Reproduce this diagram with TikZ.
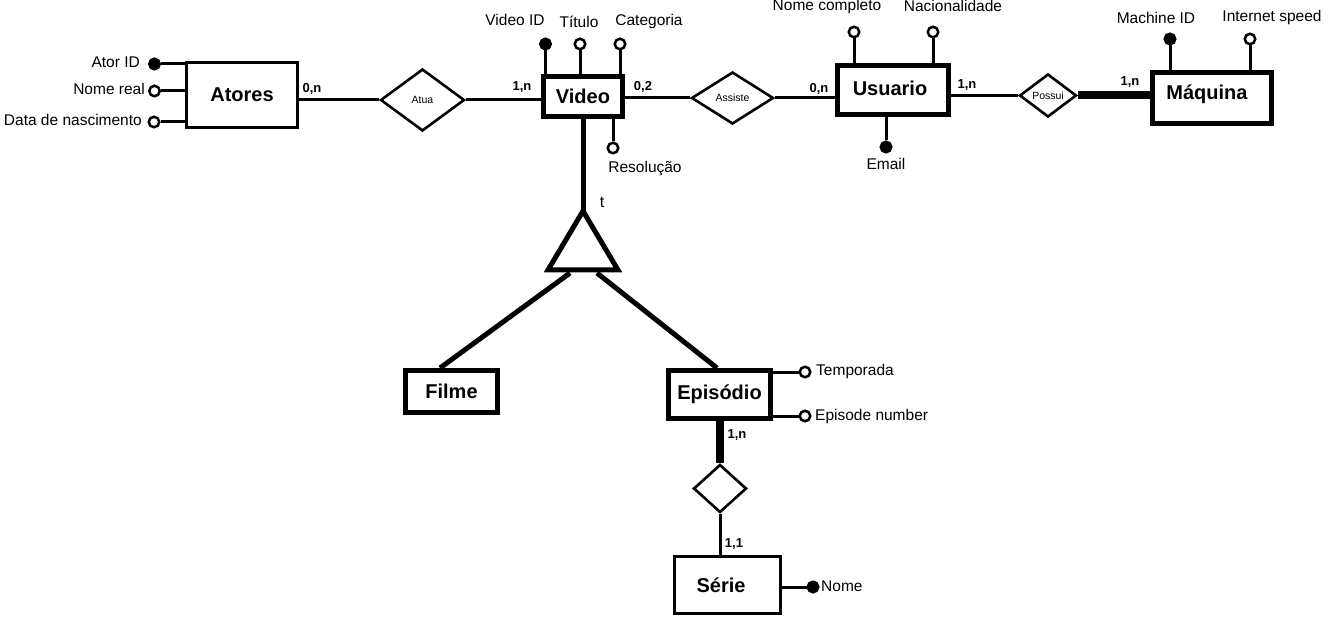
\documentclass[tikz,border=0pt]{standalone}
\usepackage{fontspec}
\setmainfont{Liberation Sans}
\usetikzlibrary{shapes.geometric}
\begin{document}
\begin{tikzpicture}[x=1pt,y=-1pt,
  thinent/.style={draw, line width=3pt, rectangle, inner sep=0pt, font=\bfseries\fontsize{20}{24}\selectfont},
  thickent/.style={draw, line width=5pt, rectangle, inner sep=0pt, font=\bfseries\fontsize{20}{24}\selectfont},
  etxt/.style={inner sep=0pt, font=\bfseries\fontsize{20}{24}\selectfont},
  rel/.style={draw, line width=2.6pt, diamond, inner sep=0pt, aspect=1, font=\fontsize{10.5}{12}\selectfont},
  opena/.style={draw, line width=2.5pt, circle, fill=white, inner sep=0pt, minimum size=10.5pt},
  fulla/.style={draw, line width=2.5pt, circle, fill=black, inner sep=0pt, minimum size=10.5pt},
  atxt/.style={inner sep=0pt, font=\fontsize{15.5}{18}\selectfont, text height=11pt, text depth=3pt},
  card/.style={inner sep=0pt, font=\bfseries\fontsize{13}{15}\selectfont},
  aline/.style={line width=3pt},
  fat/.style={line width=8pt},
  isa/.style={line width=5pt}
]
\fill[white] (0,0) rectangle (1331,620);
\useasboundingbox (0,0) rectangle (1331,620);

% entities
\node[thinent, minimum width=111pt, minimum height=65pt] (atores) at (242,95) {Atores};
\node[thickent, minimum width=79pt, minimum height=40pt] (video) at (583,96.5) {Video};
\node[thickent, minimum width=111pt, minimum height=49pt] (usuario) at (893,90) {};
\node[etxt] (tusuario) at (890,88) {Usuario};
\node[thickent, minimum width=119pt, minimum height=51pt] (maquina) at (1212,98) {};
\node[etxt] (tmaquina) at (1207,94) {Máquina};
\node[thickent, minimum width=92pt, minimum height=42pt] (filme) at (451.5,391.5) {Filme};
\node[thickent, minimum width=102pt, minimum height=48pt] (episodio) at (719.5,394.5) {Episódio};
\node[thinent, minimum width=106pt, minimum height=57pt] (serie) at (727.5,585) {};
\node[etxt] (tserie) at (721,585) {Série};

% relationships
\node[rel, minimum width=84pt, minimum height=62pt] (atua) at (422.5,100) {Atua};
\node[rel, minimum width=82pt, minimum height=52pt] (assiste) at (732.5,98) {Assiste};
\node[rel, minimum width=57pt, minimum height=43pt] (possui) at (1048,95.5) {Possui};
\node[rel, minimum width=53pt, minimum height=48pt] (pertence) at (720,488.5) {};

% connectors
\draw[aline] (atores.east |- atua) -- (atua.west);
\draw[aline] (atua.east) -- (video.west |- atua);
\draw[aline] (video.east |- assiste) -- (assiste.west);
\draw[aline] (assiste.east) -- (usuario.west |- assiste);
\draw[aline] (usuario.east |- possui) -- (possui.west);
\draw[fat] (possui.east) -- (maquina.west |- possui);
\draw[fat] (episodio.south -| pertence) -- (pertence.north);
\draw[aline] (pertence.south) -- (pertence.south |- serie.north);

% specialization
\coordinate (apex) at (583,211);
\coordinate (bl) at (548,270);
\coordinate (br) at (618,270);
\coordinate (legl) at (570,273);
\coordinate (legr) at (597,273);
\draw[isa] (video.south) -- (apex);
\draw[isa, line join=miter] (apex) -- (bl) -- (br) -- cycle;
\draw[isa] (legl) -- (filme.north -| 440,0);
\draw[isa] (legr) -- (episodio.north -| 717,0);
\node[inner sep=0pt, font=\fontsize{16}{18}\selectfont] (tlabel) at (602,202) {t};

% cardinalities
\node[card] (c1) at (312,89) {0,n};
\node[card] (c2) at (522,87) {1,n};
\node[card] (c3) at (643,87) {0,2};
\node[card] (c4) at (819,89) {0,n};
\node[card] (c5) at (967,85) {1,n};
\node[card] (c6) at (1130,82) {1,n};
\node[card] (c7) at (737,435) {1,n};
\node[card] (c8) at (734,544) {1,1};

% attributes of Atores
\node[fulla] (aid) at (154.5,64) {};
\node[opena] (anr) at (154.5,91) {};
\node[opena] (adn) at (154,122) {};
\draw[aline] (aid) -- (aid -| atores.west);
\draw[aline] (anr) -- (anr -| atores.west);
\draw[aline] (adn) -- (adn -| atores.west);
\node[atxt, anchor=east] (taid) at (140,64) {Ator ID};
\node[atxt, anchor=east] (tanr) at (145,91) {Nome real};
\node[atxt, anchor=east] (tadn) at (142,122) {Data de nascimento};

% attributes of Video
\node[fulla] (vid) at (545.5,44) {};
\node[opena] (vtit) at (580,44) {};
\node[opena] (vcat) at (620,44) {};
\node[opena] (vres) at (613,148) {};
\draw[aline] (vid) -- (vid |- video.north);
\draw[aline] (vtit) -- (vtit |- video.north);
\draw[aline] (vcat) -- (vcat |- video.north);
\draw[aline] (vres) -- (vres |- video.south);
\node[atxt] (tvid) at (515,22) {Video ID};
\node[atxt] (tvtit) at (579,24) {Título};
\node[atxt] (tvcat) at (649,22) {Categoria};
\node[atxt] (tvres) at (645,169) {Resolução};

% attributes of Usuario
\node[opena] (unc) at (854,32) {};
\node[opena] (unac) at (933,32) {};
\node[fulla] (uem) at (886,147) {};
\draw[aline] (unc) -- (unc |- usuario.north);
\draw[aline] (unac) -- (unac |- usuario.north);
\draw[aline] (uem) -- (uem |- usuario.south);
\node[atxt] (tunc) at (827,7) {Nome completo};
\node[atxt] (tunac) at (953,8) {Nacionalidade};
\node[atxt] (tuem) at (886,166) {Email};

% attributes of Maquina
\node[fulla] (mid) at (1170,39) {};
\node[opena] (mis) at (1250,39) {};
\draw[aline] (mid) -- (mid |- maquina.north);
\draw[aline] (mis) -- (mis |- maquina.north);
\node[atxt] (tmid) at (1156,20) {Machine ID};
\node[atxt] (tmis) at (1272,18) {Internet speed};

% attributes of Episodio
\node[opena] (etemp) at (805,372) {};
\node[opena] (enum) at (805,416) {};
\draw[aline] (etemp) -- (etemp -| episodio.east);
\draw[aline] (enum) -- (enum -| episodio.east);
\node[atxt, anchor=west] (tetemp) at (816,372) {Temporada};
\node[atxt, anchor=west] (tenum) at (815,416) {Episode number};

% attribute of Serie
\node[fulla] (snome) at (813,587) {};
\draw[aline] (snome) -- (snome -| serie.east);
\node[atxt, anchor=west] (tsnome) at (821,587) {Nome};
\end{tikzpicture}
\end{document}
